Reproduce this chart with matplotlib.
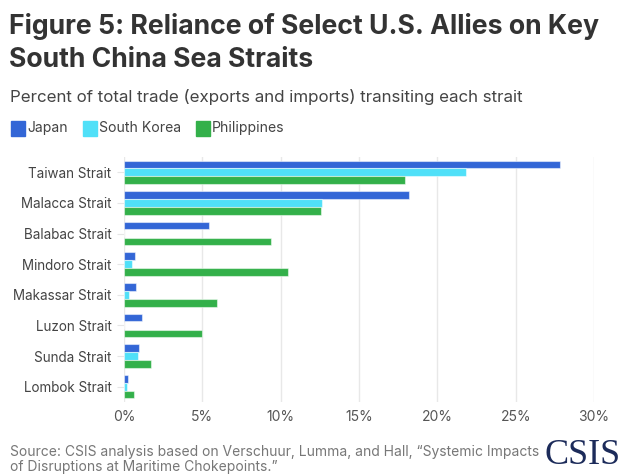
import numpy as np
import matplotlib
matplotlib.use("Agg")
import matplotlib.pyplot as plt
from matplotlib.patches import Rectangle
from matplotlib.ticker import FuncFormatter

straits = ['Taiwan Strait', 'Malacca Strait', 'Balabac Strait', 'Mindoro Strait',
           'Makassar Strait', 'Luzon Strait', 'Sunda Strait', 'Lombok Strait']
japan = [27.8, 18.2, 5.4, 0.7, 0.75, 1.13, 0.94, 0.28]
south_korea = [21.8, 12.65, 0.0, 0.5, 0.35, 0.03, 0.87, 0.19]
philippines = [17.95, 12.6, 9.4, 10.45, 5.95, 4.98, 1.72, 0.62]
series_names = ['Japan', 'South Korea', 'Philippines']
colors = ['#3366d6', '#50e0f8', '#33b04a']
xticks = [0, 5, 10, 15, 20, 25, 30]

plt.rcParams['font.family'] = ['Inter', 'DejaVu Sans']

fig = plt.figure(figsize=(6.25, 4.75), dpi=100)
ax = fig.add_axes([124 / 625, 1 - 402 / 475, (594 - 124) / 625, (402 - 157) / 475])

y = np.arange(len(straits))
h = 0.26
for i, (vals, c) in enumerate(zip([japan, south_korea, philippines], colors)):
    ax.barh(y + (i - 1) * h, vals, height=h - 0.01, color=c,
            edgecolor=(1, 1, 1, 0.5), linewidth=0.8)

ax.set_xlim(0, 30)
ax.set_ylim(len(straits) - 0.5, -0.5)
ax.set_yticks(y)
ax.set_yticklabels(straits, fontsize=9.7, color='#444444')
ax.set_xticks(xticks)
ax.xaxis.set_major_formatter(FuncFormatter(lambda v, p: f'{v:.0f}%'))
ax.tick_params(axis='x', length=0, labelsize=10, labelcolor='#555555', pad=6)
ax.tick_params(axis='y', length=5, color='#e6e6e6', pad=4)
ax.grid(axis='x', color='#e8e8e8', linewidth=1)
ax.set_axisbelow(True)
for s in ax.spines.values():
    s.set_visible(False)

fig.text(9 / 625, 1 - 27 / 475, 'Figure 5: Reliance of Select U.S. Allies on Key',
         fontsize=19.2, fontweight='bold', color='#333333', va='center')
fig.text(9 / 625, 1 - 60 / 475, 'South China Sea Straits',
         fontsize=19.2, fontweight='bold', color='#333333', va='center')
fig.text(10 / 625, 1 - 97 / 475, 'Percent of total trade (exports and imports) transiting each strait',
         fontsize=12.2, color='#444444', va='center')

lx = 11
for name, c in zip(series_names, colors):
    fig.patches.append(Rectangle((lx / 625, 1 - 136 / 475), 14 / 625, 15 / 475,
                                 transform=fig.transFigure, color=c))
    t = fig.text((lx + 16) / 625, 1 - 128 / 475, name, fontsize=10.1,
                 color='#444444', va='center')
    fig.canvas.draw()
    bb = t.get_window_extent()
    lx = bb.x1 + 15

fig.text(10 / 625, 1 - 452 / 475,
         'Source: CSIS analysis based on Verschuur, Lumma, and Hall, \u201cSystemic Impacts',
         fontsize=10, color='#777777', va='center')
fig.text(10 / 625, 1 - 467 / 475, 'of Disruptions at Maritime Chokepoints.\u201d',
         fontsize=10, color='#777777', va='center')
fig.text(621 / 625, 1 - 455 / 475, 'CSIS', fontsize=26, color='#1c2b5a',
         family='Liberation Serif', ha='right', va='center')

fig.savefig('out.png', dpi=100)
